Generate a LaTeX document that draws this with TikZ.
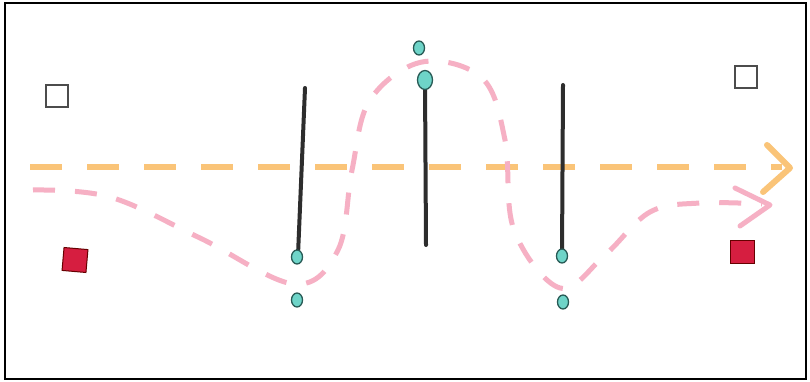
\documentclass[tikz,border=0pt]{standalone}
\usetikzlibrary{shapes.geometric}
\definecolor{orng}{RGB}{250,196,120}
\definecolor{pnk}{RGB}{246,176,196}
\definecolor{cyn}{RGB}{110,212,200}
\definecolor{dotline}{RGB}{40,90,85}
\definecolor{bar}{RGB}{45,45,45}
\definecolor{redsq}{RGB}{214,30,64}
\tikzset{
  whitesq/.style={draw=black!70, line width=1.2pt, fill=white, minimum width=22pt, minimum height=22pt, inner sep=0pt},
  redbox/.style={draw=black!60!red, line width=1pt, fill=redsq, minimum width=24pt, minimum height=23pt, inner sep=0pt},
  dot/.style={ellipse, draw=dotline, line width=1.3pt, fill=cyn, minimum width=11pt, minimum height=14pt, inner sep=0pt},
  bigdot/.style={dot, minimum width=15pt, minimum height=19pt},
  barline/.style={draw=bar, line width=4pt, line cap=round},
  orangedash/.style={draw=orng, line width=6pt, dash pattern=on 32pt off 25pt},
  pinkdash/.style={draw=pnk, line width=5pt, dash pattern=on 22pt off 20pt},
  orangehead/.style={draw=orng, line width=6pt, line cap=round, line join=round},
  pinkhead/.style={draw=pnk, line width=5pt, line cap=round, line join=round}
}
\begin{document}
\begin{tikzpicture}[x=1pt,y=-1pt]
\useasboundingbox (0,0) rectangle (810,382);
\fill[white] (0,0) rectangle (810,382);
\draw[black, line width=1.5pt] (5,3) rectangle (806,379);
% squares
\node[whitesq] (wl) at (57,96) {};
\node[whitesq] (wr) at (746,77) {};
\node[redbox, rotate=-5] (rl) at (75,260) {};
\node[redbox] (rr) at (742,252) {};
% orange dashed arrow
\coordinate (os) at (30,167);
\coordinate (oe) at (782,167);
\draw[orangedash] (os) -- (oe);
\coordinate (otip) at (790,168);
\coordinate (oa1) at (767,145);
\coordinate (oa2) at (763,192);
\draw[orangehead] (oa1) -- (otip) -- (oa2);
% pink dashed wave
\draw[pinkdash] plot[smooth, tension=0.6] coordinates {(33,190) (110,197) (200,238) (294,284) (338,250) (352,170) (370,100) (422,62) (482,78) (505,140) (514,230) (560,288) (605,255) (650,212) (700,203) (762,204)};
\coordinate (ptip) at (770,205);
\coordinate (pa1) at (735,188);
\coordinate (pa2) at (740,226);
\draw[pinkhead] (pa1) -- (ptip) -- (pa2);
% bars
\coordinate (b1t) at (305,88);
\coordinate (b1b) at (298,255);
\coordinate (b2t) at (425,82);
\coordinate (b2b) at (426,245);
\coordinate (b3t) at (563,85);
\coordinate (b3b) at (562,255);
\draw[barline] (b1t) -- (b1b);
\draw[barline] (b2t) -- (b2b);
\draw[barline] (b3t) -- (b3b);
% cyan dots
\node[dot] (d1a) at (297,257) {};
\node[dot] (d1b) at (297,300) {};
\node[bigdot] (d2a) at (425,80) {};
\node[dot] (d2b) at (419,48) {};
\node[dot] (d3a) at (562,256) {};
\node[dot] (d3b) at (563,302) {};
\end{tikzpicture}
\end{document}
